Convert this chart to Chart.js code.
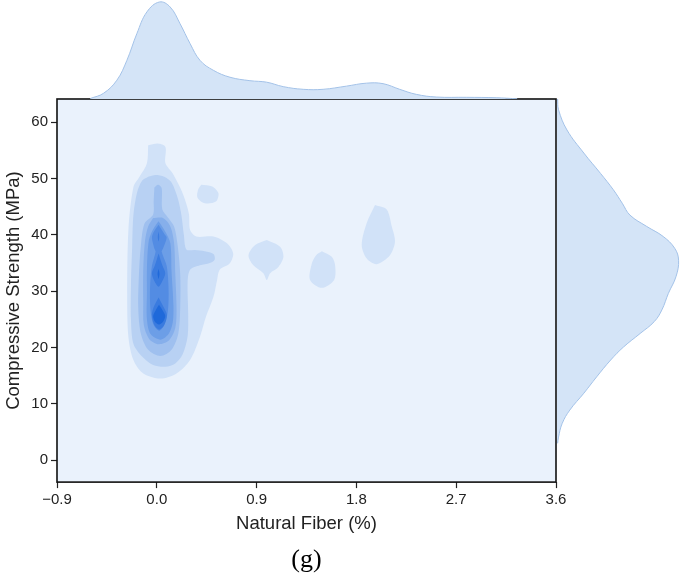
<!DOCTYPE html>
<html lang="en">
<head>
<meta charset="UTF-8">
<title>Natural Fiber vs Compressive Strength</title>
<script src="https://cdn.jsdelivr.net/npm/chart.js@4.4.1/dist/chart.umd.min.js"></script>
<style>
    body { margin: 0; background: #fff; }
    #wrap { position: relative; width: 685px; height: 575px; }
    #wrap canvas { position: absolute; }
    #mainChart { left: 0; top: 0; }
    #topChart { left: 0; top: 0; }
    #rightChart { left: 557px; top: 99px; }
</style>
</head>
<body>
<div id="wrap">
    <canvas id="mainChart" width="685" height="575"></canvas>
    <canvas id="topChart" width="685" height="99"></canvas>
    <canvas id="rightChart" width="128" height="383"></canvas>
</div>
<script>
    // axis ticks
    const xTicks = [-0.9, 0.0, 0.9, 1.8, 2.7, 3.6];
    const yTicks = [0, 10, 20, 30, 40, 50, 60];

    // top marginal KDE (Natural Fiber)
    const topX = [-0.60, -0.48, -0.36, -0.27, -0.18, -0.089, 0.024, 0.12, 0.21, 0.30, 0.39, 0.51, 0.66, 0.84, 0.99, 1.14, 1.32, 1.50, 1.71, 1.89, 2.04, 2.19, 2.34, 2.52, 2.79, 3.06, 3.25];
    const topDens = [0.005, 0.058, 0.19, 0.39, 0.66, 0.88, 0.98, 0.93, 0.76, 0.56, 0.39, 0.29, 0.22, 0.185, 0.17, 0.125, 0.098, 0.098, 0.13, 0.16, 0.155, 0.098, 0.047, 0.02, 0.017, 0.013, 0.002];

    // right marginal KDE (Compressive Strength)
    const rightY = [64.1, 62.2, 58.6, 54.5, 50.9, 48.0, 45.6, 43.5, 41.5, 39.7, 37.6, 35.5, 32.6, 29.6, 26.7, 24.6, 22.5, 20.1, 17.8, 14.8, 11.9, 8.9, 6.5, 4.1, 3.0];
    const rightDens = [0.005, 0.012, 0.078, 0.21, 0.34, 0.44, 0.51, 0.57, 0.70, 0.83, 0.92, 0.95, 0.93, 0.87, 0.82, 0.76, 0.65, 0.52, 0.42, 0.31, 0.21, 0.10, 0.04, 0.012, 0.005];

    // 2D KDE contour outlines [fiber, strength], by density level
    const lvl1Main = [[-0.078, 55.9], [0.011, 56.2], [0.078, 55.6], [0.078, 52.7], [0.144, 50.9], [0.233, 47.4], [0.289, 43.8], [0.30, 40.9], [0.356, 39.7], [0.511, 39.7], [0.633, 38.5], [0.689, 36.7], [0.656, 34.9], [0.567, 33.8], [0.544, 32.0], [0.511, 29.0], [0.444, 25.5], [0.389, 21.9], [0.30, 17.8], [0.178, 15.4], [0.033, 14.5], [-0.122, 15.4], [-0.211, 17.8], [-0.256, 21.9], [-0.267, 29.0], [-0.256, 40.9], [-0.211, 48.5], [-0.156, 50.3], [-0.089, 52.7]];
    const lvl1IslandA = [[0.40, 48.9], [0.50, 48.6], [0.556, 47.4], [0.533, 45.9], [0.433, 45.6], [0.367, 46.6], [0.372, 48.0]];
    const lvl1IslandB = [[0.992, 39.1], [1.112, 37.9], [1.142, 36.1], [1.097, 34.3], [1.022, 33.2], [0.992, 32.0], [0.961, 33.2], [0.871, 34.6], [0.827, 36.4], [0.887, 38.2]];
    const lvl1IslandC = [[1.488, 37.1], [1.578, 36.1], [1.608, 34.6], [1.599, 32.0], [1.488, 30.6], [1.382, 32.0], [1.398, 34.9], [1.437, 36.4]];
    const lvl1IslandD = [[1.968, 45.3], [2.073, 44.5], [2.119, 41.5], [2.148, 38.8], [2.103, 36.4], [1.983, 34.8], [1.893, 35.8], [1.848, 38.2], [1.893, 42.1]];
    const lvl2 = [[-0.078, 50.3], [-0.011, 50.6], [0.067, 50.3], [0.133, 49.3], [0.189, 46.5], [0.222, 43.5], [0.244, 40.0], [0.267, 37.4], [0.344, 37.3], [0.433, 37.1], [0.511, 36.6], [0.522, 35.6], [0.478, 35.0], [0.389, 34.6], [0.30, 33.8], [0.278, 31.5], [0.283, 26.0], [0.278, 22.0], [0.233, 18.8], [0.167, 17.2], [0.078, 16.6], [-0.033, 16.9], [-0.133, 18.4], [-0.211, 20.7], [-0.233, 25.0], [-0.233, 31.0], [-0.222, 38.0], [-0.211, 43.5], [-0.178, 47.5], [-0.133, 49.6]];
    const lvl3 = [[-0.022, 48.4], [0.011, 48.9], [0.044, 48.3], [0.05, 44.5], [0.10, 43.1], [0.156, 41.5], [0.189, 38.0], [0.211, 33.0], [0.211, 27.0], [0.194, 22.5], [0.133, 19.6], [0.033, 18.5], [-0.078, 19.6], [-0.144, 22.5], [-0.167, 27.0], [-0.161, 33.0], [-0.144, 38.0], [-0.111, 42.0], [-0.033, 43.6], [-0.028, 46.0]];
    const lvl4 = [[-0.033, 43.0], [0.056, 43.0], [0.122, 41.5], [0.156, 38.5], [0.167, 33.0], [0.178, 27.0], [0.167, 23.5], [0.111, 21.3], [0.017, 20.6], [-0.067, 21.5], [-0.117, 24.0], [-0.122, 28.0], [-0.122, 34.0], [-0.106, 39.0], [-0.078, 41.5]];
    const lvl5 = [[0.016, 42.4], [0.078, 40.5], [0.122, 38.5], [0.133, 33.5], [0.15, 27.5], [0.144, 24.5], [0.106, 22.4], [0.033, 21.4], [-0.056, 22.4], [-0.089, 25.0], [-0.089, 30.0], [-0.089, 34.0], [-0.072, 39.0], [-0.033, 41.0]];
    const lvl6 = [[0.016, 41.8], [0.067, 40.2], [0.089, 39.5], [0.056, 37.6], [0.044, 37.0], [0.089, 34.5], [0.106, 30.5], [0.10, 26.5], [0.067, 24.0], [0.022, 23.0], [-0.028, 24.0], [-0.056, 26.5], [-0.061, 30.5], [-0.044, 34.5], [-0.011, 37.0], [-0.022, 37.6], [-0.044, 39.5], [-0.028, 40.5]];
    const lvl7Top = [[0.016, 40.6], [0.022, 39.6], [0.016, 38.8], [0.009, 39.6]];
    const lvl7Upper = [[0.016, 36.7], [0.05, 34.6], [0.076, 33.2], [0.05, 31.8], [0.016, 30.8], [-0.022, 31.8], [-0.044, 33.2], [-0.017, 34.6]];
    const lvl7Lower = [[0.016, 28.9], [0.061, 27.2], [0.091, 25.8], [0.067, 24.0], [0.022, 23.2], [-0.022, 24.0], [-0.044, 25.8], [-0.028, 27.2]];
    const lvl8 = [[0.02, 27.6], [0.056, 26.5], [0.076, 25.6], [0.056, 24.6], [0.02, 24.1], [-0.017, 24.6], [-0.033, 25.6], [-0.011, 26.6]];
    const lvl8Sliver = [[0.016, 34.0], [0.024, 33.1], [0.016, 32.2], [0.007, 33.1]];

    const contours = [
        {level: 1, pts: lvl1Main}, {level: 1, pts: lvl1IslandA}, {level: 1, pts: lvl1IslandB},
        {level: 1, pts: lvl1IslandC}, {level: 1, pts: lvl1IslandD},
        {level: 2, pts: lvl2}, {level: 3, pts: lvl3}, {level: 4, pts: lvl4},
        {level: 5, pts: lvl5}, {level: 6, pts: lvl6},
        {level: 7, pts: lvl7Top}, {level: 7, pts: lvl7Upper}, {level: 7, pts: lvl7Lower},
        {level: 8, pts: lvl8}, {level: 8, pts: lvl8Sliver}
    ];

    const levelColors = ['#eaf2fc', '#d1e2f8', '#b8d1f3', '#9fc0ef', '#86afeb', '#6c9ee7', '#538ce3', '#3a7bdf', '#1f69da'];
    const fontFamily = "'Liberation Sans', Arial, sans-serif";
    Chart.defaults.font.family = fontFamily;

    // fill the plot area and draw the black frame
    const boxPlugin = {
        id: 'box',
        beforeDraw(chart) {
            const {ctx, chartArea: a} = chart;
            ctx.save();
            ctx.fillStyle = levelColors[0];
            ctx.fillRect(a.left, a.top, a.right - a.left, a.bottom - a.top);
            ctx.restore();
        },
        afterDraw(chart) {
            const {ctx, chartArea: a} = chart;
            ctx.save();
            ctx.strokeStyle = '#111';
            ctx.lineWidth = 1.6;
            ctx.strokeRect(a.left, a.top, a.right - a.left, a.bottom - a.top);
            ctx.restore();
        }
    };

    const mainChart = new Chart(document.getElementById('mainChart'), {
        type: 'line',
        data: {
            datasets: contours.map(c => ({
                data: c.pts.concat([c.pts[0]]).map(p => ({x: p[0], y: p[1]})),
                fill: 'shape',
                backgroundColor: levelColors[c.level],
                borderWidth: 0,
                pointRadius: 0,
                tension: 0.3,
                order: 20 - c.level
            }))
        },
        options: {
            responsive: false,
            animation: false,
            layout: {padding: {left: 0, right: 129, top: 99, bottom: 0}},
            plugins: {
                legend: {display: false},
                tooltip: {enabled: false},
                title: {
                    display: true,
                    text: '(g)',
                    position: 'bottom',
                    fullSize: false,
                    color: '#000',
                    font: {family: "'Liberation Serif', 'Times New Roman', serif", size: 26, weight: 'normal', lineHeight: 1.15},
                    padding: 0
                }
            },
            scales: {
                x: {
                    type: 'linear',
                    min: -0.9,
                    max: 3.6,
                    afterFit: s => { s.height = 63; },
                    afterBuildTicks: s => { s.ticks = xTicks.map(v => ({value: v})); },
                    ticks: {
                        autoSkip: false,
                        maxRotation: 0,
                        padding: 3,
                        color: '#222',
                        font: {size: 15},
                        callback: v => v.toFixed(1).replace('-', '\u2212')
                    },
                    grid: {drawOnChartArea: false, drawTicks: true, tickLength: 6, tickColor: '#222', tickWidth: 1.2},
                    border: {display: false},
                    title: {display: true, text: 'Natural Fiber (%)', color: '#222', font: {size: 18.5}, padding: {top: 0, bottom: 10}}
                },
                y: {
                    type: 'linear',
                    min: -3.86,
                    max: 64.1,
                    afterFit: s => { s.width = 57; },
                    afterBuildTicks: s => { s.ticks = yTicks.map(v => ({value: v})); },
                    ticks: {padding: 3, color: '#222', font: {size: 15}, callback: v => String(v)},
                    grid: {drawOnChartArea: false, drawTicks: true, tickLength: 6, tickColor: '#222', tickWidth: 1.2},
                    border: {display: false},
                    title: {display: true, text: 'Compressive Strength (MPa)', color: '#222', font: {size: 18.5}, padding: {top: 3, bottom: 0}}
                }
            }
        },
        plugins: [boxPlugin]
    });

    // top marginal density
    const topChart = new Chart(document.getElementById('topChart'), {
        type: 'line',
        data: {
            datasets: [{
                data: topX.map((x, i) => ({x: x, y: topDens[i]})),
                fill: 'origin',
                backgroundColor: '#d4e4f7',
                borderColor: '#a3c2e8',
                borderWidth: 1,
                pointRadius: 0,
                tension: 0.4
            }]
        },
        options: {
            responsive: false,
            animation: false,
            layout: {padding: {left: 57, right: 129, top: 0, bottom: 0}},
            plugins: {legend: {display: false}, tooltip: {enabled: false}},
            scales: {
                x: {type: 'linear', min: -0.9, max: 3.6, display: false},
                y: {type: 'linear', min: 0, max: 1, display: false}
            }
        }
    });

    // right marginal density
    const rightChart = new Chart(document.getElementById('rightChart'), {
        type: 'line',
        data: {
            datasets: [{
                data: rightY.map((y, i) => ({x: rightDens[i], y: y})),
                fill: 'origin',
                backgroundColor: '#d4e4f7',
                borderColor: '#a3c2e8',
                borderWidth: 1,
                pointRadius: 0,
                tension: 0.4
            }]
        },
        options: {
            indexAxis: 'y',
            responsive: false,
            animation: false,
            layout: {padding: 0},
            plugins: {legend: {display: false}, tooltip: {enabled: false}},
            scales: {
                x: {type: 'linear', min: 0, max: 1, display: false},
                y: {type: 'linear', min: -3.86, max: 64.1, display: false}
            }
        }
    });
</script>
</body>
</html>
